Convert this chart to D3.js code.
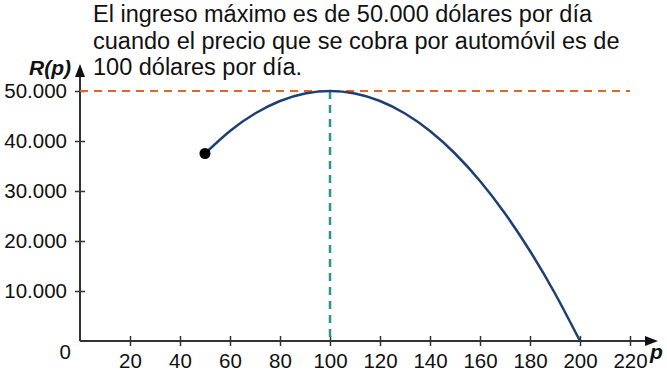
<!DOCTYPE html>
<html>
<head>
<meta charset="utf-8">
<script src="https://cdn.jsdelivr.net/npm/d3@7"></script>
<style>
   body { margin: 0; background: #fff; }
   text { font-family: "Liberation Sans", Arial, sans-serif; }
</style>
</head>
<body>
<div id="container"></div>
<script>
// precio por automóvil (p) y ingreso R(p)
const prices = [50, 60, 70, 80, 90, 100, 110, 120, 130, 140, 150, 160, 170, 180, 190, 200];
const revenue = [37500, 42000, 45500, 48000, 49500, 50000, 49500, 48000, 45500, 42000, 37500, 32000, 25500, 18000, 9500, 0];
const xTicks = [20, 40, 60, 80, 100, 120, 140, 160, 180, 200, 220];
const yTicks = [10000, 20000, 30000, 40000, 50000];
const maxPrice = 100;
const maxRevenue = 50000;
const titleLines = [
   'El ingreso máximo es de 50.000 dólares por día',
   'cuando el precio que se cobra por automóvil es de',
   '100 dólares por día.'
];

const w = 667;
const h = 378;

const svg = d3.select('#container')
   .append('svg')
   .attr('width', w)
   .attr('height', h);

const x = d3.scaleLinear().domain([0, 220]).range([80, 630]);
const y = d3.scaleLinear().domain([0, 50000]).range([341, 91]);

const fmt = d => d3.format(',')(d).replace(/,/g, '.');

// eje x
svg.append('g')
   .attr('transform', 'translate(0,' + y(0) + ')')
   .call(d3.axisBottom(x).tickValues(xTicks).tickSizeInner(5).tickSizeOuter(0).tickPadding(7))
   .call(g => g.select('.domain').remove())
   .call(g => g.selectAll('.tick line').attr('y1', -5).attr('stroke', '#333').attr('stroke-width', 1.5))
   .call(g => g.selectAll('.tick text').attr('font-size', 20.5).attr('fill', '#111')
      .attr('font-family', '"Liberation Sans", Arial, sans-serif'));

// eje y
svg.append('g')
   .attr('transform', 'translate(' + x(0) + ',0)')
   .call(d3.axisLeft(y).tickValues(yTicks).tickFormat(fmt).tickSizeInner(5).tickSizeOuter(0).tickPadding(8))
   .call(g => g.select('.domain').remove())
   .call(g => g.selectAll('.tick line').attr('x1', 5).attr('stroke', '#333').attr('stroke-width', 1.5))
   .call(g => g.selectAll('.tick text').attr('font-size', 20.5).attr('fill', '#111')
      .attr('font-family', '"Liberation Sans", Arial, sans-serif'));

// líneas de los ejes con flecha
svg.append('line')
   .attr('x1', x(0)).attr('y1', y(0))
   .attr('x2', 648).attr('y2', y(0))
   .attr('stroke', '#333').attr('stroke-width', 2);
svg.append('path')
   .attr('d', 'M645,' + (y(0) - 5) + 'L658,' + y(0) + 'L645,' + (y(0) + 5) + 'Z')
   .attr('fill', '#111');
svg.append('line')
   .attr('x1', x(0)).attr('y1', y(0))
   .attr('x2', x(0)).attr('y2', 74)
   .attr('stroke', '#333').attr('stroke-width', 2);
svg.append('path')
   .attr('d', 'M' + (x(0) - 5) + ',77L' + x(0) + ',64L' + (x(0) + 5) + ',77Z')
   .attr('fill', '#111');

svg.append('text')
   .attr('x', 71).attr('y', y(0) + 18)
   .attr('text-anchor', 'end')
   .attr('font-size', 20.5)
   .attr('fill', '#111')
   .text('0');

svg.append('text')
   .attr('x', 650).attr('y', 359)
   .attr('font-size', 21)
   .attr('font-weight', 'bold')
   .attr('font-style', 'italic')
   .attr('fill', '#111')
   .text('p');

svg.append('text')
   .attr('x', 71).attr('y', 75)
   .attr('text-anchor', 'end')
   .attr('font-size', 21)
   .attr('font-weight', 'bold')
   .attr('font-style', 'italic')
   .attr('fill', '#111')
   .text('R(p)');

// líneas de referencia
svg.append('line')
   .attr('x1', x(0)).attr('x2', x(220))
   .attr('y1', y(maxRevenue)).attr('y2', y(maxRevenue))
   .attr('stroke', '#e0652b')
   .attr('stroke-width', 2)
   .attr('stroke-dasharray', '8,6');

svg.append('line')
   .attr('x1', x(maxPrice)).attr('x2', x(maxPrice))
   .attr('y1', y(maxRevenue)).attr('y2', y(0))
   .attr('stroke', '#2a9494')
   .attr('stroke-width', 2.5)
   .attr('stroke-dasharray', '8,6');

// curva del ingreso
const data = prices.map((p, i) => [p, revenue[i]]);
const line = d3.line()
   .x(d => x(d[0]))
   .y(d => y(d[1]))
   .curve(d3.curveNatural);

svg.append('path')
   .datum(data)
   .attr('d', line)
   .attr('fill', 'none')
   .attr('stroke', '#1d3f74')
   .attr('stroke-width', 2.5);

svg.append('circle')
   .attr('cx', x(data[0][0]))
   .attr('cy', y(data[0][1]))
   .attr('r', 5.5)
   .attr('fill', '#000');

// texto explicativo
svg.append('text')
   .attr('font-size', 23.5)
   .attr('fill', '#111')
   .selectAll('tspan')
   .data(titleLines)
   .enter()
   .append('tspan')
   .attr('x', 93)
   .attr('y', (d, i) => 22 + i * 26.5)
   .text(d => d);
</script>
</body>
</html>
